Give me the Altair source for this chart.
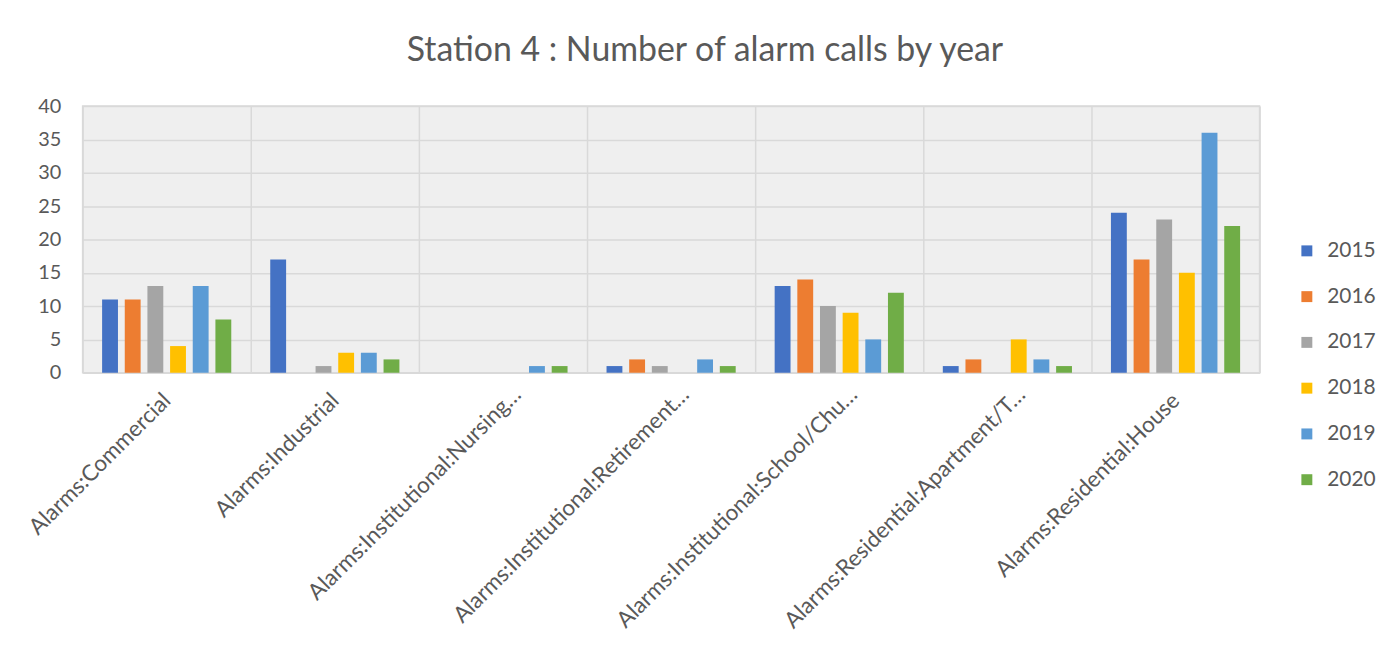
import altair as alt
import pandas as pd

categories = [
    "Alarms:Commercial",
    "Alarms:Industrial",
    "Alarms:Institutional:Nursing…",
    "Alarms:Institutional:Retirement…",
    "Alarms:Institutional:School/Chu…",
    "Alarms:Residential:Apartment/T…",
    "Alarms:Residential:House",
]
years = ["2015", "2016", "2017", "2018", "2019", "2020"]
v2015 = [11, 17, 0, 1, 13, 1, 24]
v2016 = [11, 0, 0, 2, 14, 2, 17]
v2017 = [13, 1, 0, 1, 10, 0, 23]
v2018 = [4, 3, 0, 0, 9, 5, 15]
v2019 = [13, 3, 1, 2, 5, 2, 36]
v2020 = [8, 2, 1, 1, 12, 1, 22]
colors = ["#4472C4", "#ED7D31", "#A5A5A5", "#FFC000", "#5B9BD5", "#70AD47"]

series = [v2015, v2016, v2017, v2018, v2019, v2020]
rows = []
for y, vals in zip(years, series):
    for c, v in zip(categories, vals):
        rows.append({"category": c, "year": y, "value": v})
df = pd.DataFrame(rows)

FONT = "Lato"
GREY = "#595959"
TRUNC = "indexof(datum.label, '…') >= 0"

chart = (
    alt.Chart(df)
    .mark_bar()
    .encode(
        x=alt.X(
            "category:N",
            sort=categories,
            scale=alt.Scale(paddingInner=0, paddingOuter=0),
            axis=alt.Axis(
                title=None,
                labelAngle=-45,
                labelAlign="right",
                labelBaseline="middle",
                grid=True,
                tickBand="extent",
                ticks=False,
                domain=False,
                labelFontSize=22.5,
                labelColor=GREY,
                labelFont=FONT,
                labelPadding={"condition": {"test": TRUNC, "value": 18}, "value": 24},
                labelOffset={"condition": {"test": TRUNC, "value": 14}, "value": 0},
                labelLimit=0,
            ),
        ),
        xOffset=alt.XOffset(
            "year:N", sort=years, scale=alt.Scale(paddingInner=0.3, paddingOuter=0.86)
        ),
        y=alt.Y(
            "value:Q",
            scale=alt.Scale(domain=[0, 40], nice=False),
            axis=alt.Axis(
                title=None,
                values=list(range(0, 41, 5)),
                ticks=False,
                domain=False,
                labelFontSize=20,
                labelColor=GREY,
                labelFont=FONT,
                labelPadding=22,
            ),
        ),
        color=alt.Color(
            "year:N",
            sort=years,
            scale=alt.Scale(domain=years, range=colors),
            legend=alt.Legend(
                title=None,
                orient="none",
                legendX=1220,
                legendY=135,
                symbolType="square",
                symbolSize=121,
                symbolStrokeWidth=0,
                labelFontSize=21,
                labelColor=GREY,
                labelFont=FONT,
                rowPadding=24,
                padding=0,
                labelOffset=10,
            ),
        ),
    )
    .properties(
        width=1183,
        height=268,
        autosize="none",
        padding={"left": 75, "top": 97, "right": 117, "bottom": 262},
        title=alt.TitleParams(
            "Station 4 : Number of alarm calls by year",
            fontSize=34,
            color=GREY,
            font=FONT,
            fontWeight="normal",
            dx=34,
            offset=28,
        ),
    )
    .configure_view(fill="#efefef", stroke="#d9d9d9", strokeWidth=1.5)
    .configure_axis(gridColor="#d9d9d9", gridWidth=1.5, gridOpacity=1)
)

chart.save("out.html", embed_options={"renderer": "svg", "actions": False})
